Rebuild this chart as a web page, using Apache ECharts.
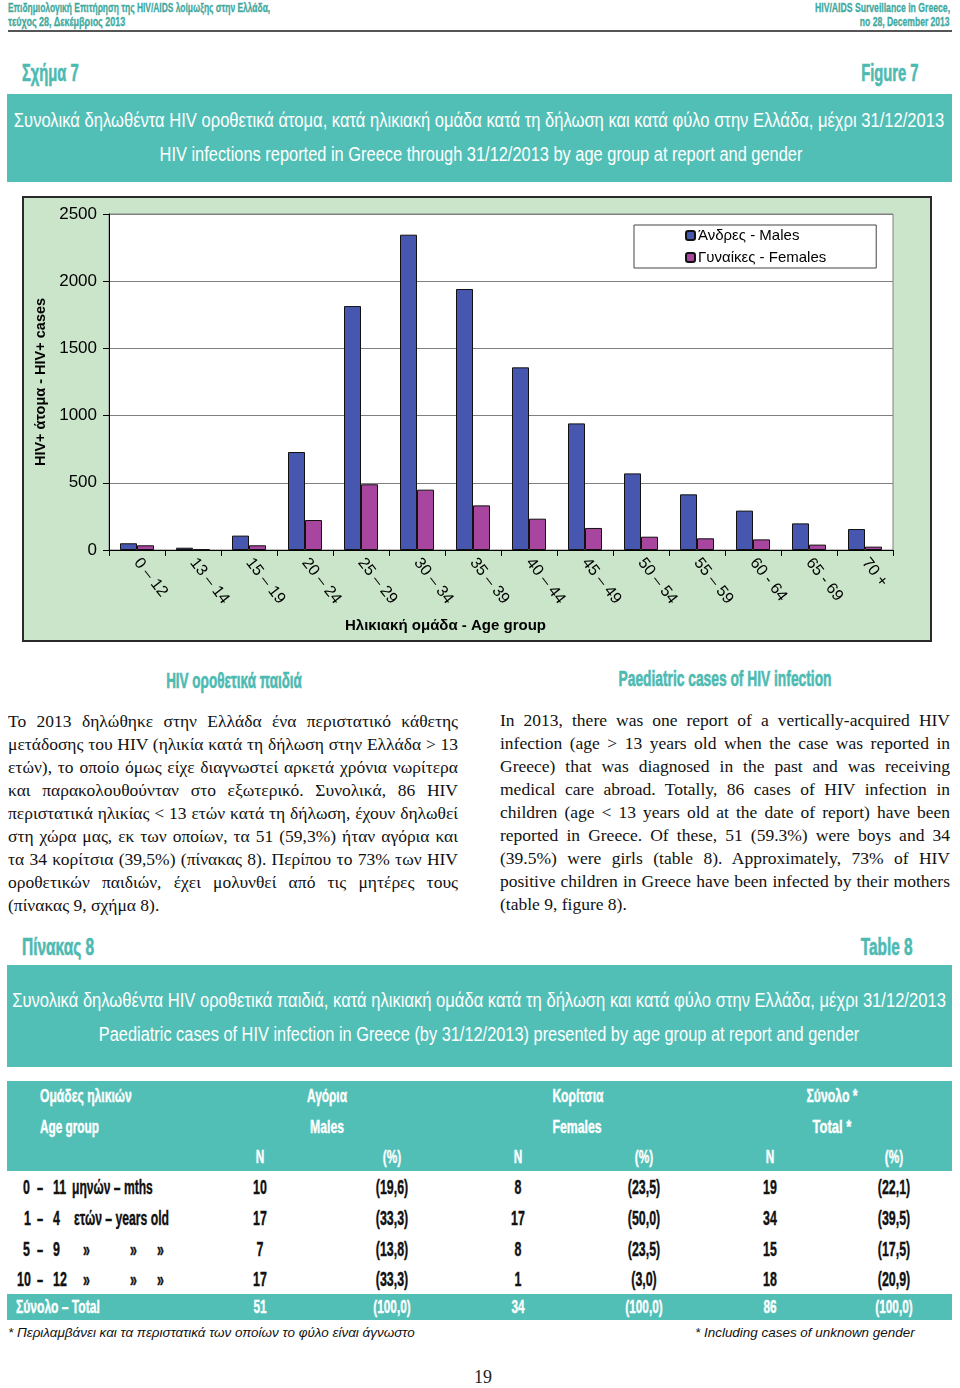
<!DOCTYPE html>
<html><head><meta charset="utf-8">
<script src="https://cdn.jsdelivr.net/npm/echarts@6/dist/echarts.min.js"></script>
<style>
body{margin:0;width:960px;height:1388px;background:#fff;position:relative;overflow:hidden;}
.a{position:absolute;white-space:nowrap;}
.n{font-family:"Liberation Sans",Arial,sans-serif;}
.hv{-webkit-text-stroke:0.6px currentColor;}
.teal{color:#4dbab2;}
.box{position:absolute;background:#52bfb7;}
.para{position:absolute;width:450px;font-family:"Liberation Serif","DejaVu Serif",serif;font-size:17.5px;color:#111;}
.para div{height:23px;line-height:23px;text-align:justify;text-align-last:justify;white-space:nowrap;}
.para div.last{text-align-last:left;}
.w{color:#fff;}
</style></head>
<body>
<!-- page header -->
<div class="a n hv" data-w="262" style="left:8px;top:0px;font-size:13px;font-weight:bold;color:#3fa9a0;-webkit-text-stroke-width:0.3px;">Επιδημιολογική Επιτήρηση της HIV/AIDS λοίμωξης στην Ελλάδα,</div>
<div class="a n hv" data-w="117" style="left:8px;top:14px;font-size:13px;font-weight:bold;color:#3fa9a0;-webkit-text-stroke-width:0.3px;">τεύχος 28, Δεκέμβριος 2013</div>
<div class="a n hv" data-w="135" data-al="r" style="right:10px;top:0px;font-size:13px;font-weight:bold;color:#3fa9a0;-webkit-text-stroke-width:0.3px;">HIV/AIDS Surveillance in Greece,</div>
<div class="a n hv" data-w="90" data-al="r" style="right:10px;top:14px;font-size:13px;font-weight:bold;color:#3fa9a0;-webkit-text-stroke-width:0.3px;">no 28, December 2013</div>
<div class="a" style="left:8px;top:30px;width:944px;height:2px;background:#555;"></div>

<div class="a n teal hv" data-w="57" style="left:22px;top:60px;font-size:23px;font-weight:bold;">Σχήμα 7</div>
<div class="a n teal hv" data-w="57" data-al="r" style="right:42px;top:60px;font-size:23px;font-weight:bold;">Figure 7</div>

<div class="box" style="left:7px;top:94px;width:945px;height:88px;"></div>
<div class="a n w" data-w="930" data-al="c" style="left:479px;top:109px;font-size:20px;">Συνολικά δηλωθέντα HIV οροθετικά άτομα, κατά ηλικιακή ομάδα κατά τη δήλωση και κατά φύλο στην Ελλάδα, μέχρι 31/12/2013</div>
<div class="a n w" data-w="643" data-al="c" style="left:481px;top:143px;font-size:20px;">HIV infections reported in Greece through 31/12/2013 by age group at report and gender</div>

<!-- chart -->
<div class="a" style="left:22px;top:196px;width:910px;height:446px;box-sizing:border-box;border:2px solid #2a2a2a;background:#cbe5cb;">
  <div id="chart" style="width:906px;height:442px;"></div>
</div>

<!-- text columns -->
<div class="a n teal hv" data-w="136" data-al="c" style="left:234px;top:668px;font-size:22px;font-weight:bold;">HIV οροθετικά παιδιά</div>
<div class="a n teal hv" data-w="213" data-al="c" style="left:725px;top:666px;font-size:22px;font-weight:bold;">Paediatric cases of HIV infection</div>

<div class="para" style="left:8px;top:710px;" id="pl"></div>
<div class="para" style="left:500px;top:709px;" id="pr"></div>

<div class="a n teal hv" data-w="72" style="left:22px;top:934px;font-size:23px;font-weight:bold;">Πίνακας 8</div>
<div class="a n teal hv" data-w="52" data-al="r" style="right:47px;top:934px;font-size:23px;font-weight:bold;">Table 8</div>

<div class="box" style="left:7px;top:965px;width:945px;height:102px;"></div>
<div class="a n w" data-w="934" data-al="c" style="left:479px;top:989px;font-size:20px;">Συνολικά δηλωθέντα HIV οροθετικά παιδιά, κατά ηλικιακή ομάδα κατά τη δήλωση και κατά φύλο στην Ελλάδα, μέχρι 31/12/2013</div>
<div class="a n w" data-w="760" data-al="c" style="left:479px;top:1023px;font-size:20px;">Paediatric cases of HIV infection in Greece (by 31/12/2013) presented by age group at report and gender</div>

<!-- table -->
<div class="box" style="left:7px;top:1081px;width:945px;height:90px;"></div>
<div class="box" style="left:7px;top:1294px;width:945px;height:26px;"></div>
<div id="tbl"></div>

<div class="a" data-w="407" style="left:8px;top:1325px;font-family:'Liberation Sans',sans-serif;font-style:italic;font-size:13.5px;color:#111;">* Περιλαμβάνει και τα περιστατικά των οποίων το φύλο είναι άγνωστο</div>
<div class="a" data-w="220" style="left:695px;top:1325px;font-family:'Liberation Sans',sans-serif;font-style:italic;font-size:13.5px;color:#111;">* Including cases of unknown gender</div>
<div class="a" data-al="c" data-s="1" style="left:483px;top:1367px;font-family:'Liberation Serif',serif;font-size:18px;color:#222;">19</div>

<script>
// ---- figure data ----
const ageGroups = ['0 – 12','13 – 14','15 – 19','20 – 24','25 – 29','30 – 34','35 – 39','40 – 44','45 – 49','50 – 54','55 – 59','60 - 64','65 - 69','70 +'];
const males   = [50, 17, 107, 729, 1815, 2346, 1942, 1359, 942, 570, 414, 293, 198, 156];
const females = [35, 5, 35, 223, 489, 449, 332, 233, 164, 99, 87, 79, 40, 25];
const seriesNames = ['Άνδρες - Males', 'Γυναίκες - Females'];
const yTickValues = [0, 500, 1000, 1500, 2000, 2500];

// ---- table data ----
const tableRowAges  = [['0','11'],['1','4'],['5','9'],['10','12']];
const tableRowUnits = ['μηνών – mths','ετών – years old','»','»'];
const tableMalesN   = ['10','17','7','17'];
const tableMalesP   = ['(19,6)','(33,3)','(13,8)','(33,3)'];
const tableFemalesN = ['8','17','8','1'];
const tableFemalesP = ['(23,5)','(50,0)','(23,5)','(3,0)'];
const tableTotalN   = ['19','34','15','18'];
const tableTotalP   = ['(22,1)','(39,5)','(17,5)','(20,9)'];
const tableTotals   = ['51','(100,0)','34','(100,0)','86','(100,0)'];

// ---- paragraphs (line by line) ----
const paraGreek = [
 'Το 2013 δηλώθηκε στην Ελλάδα ένα περιστατικό κάθετης',
 'μετάδοσης του HIV (ηλικία κατά τη δήλωση στην Ελλάδα > 13',
 'ετών), το οποίο όμως είχε διαγνωστεί αρκετά χρόνια νωρίτερα',
 'και παρακολουθούνταν στο εξωτερικό. Συνολικά, 86 HIV',
 'περιστατικά ηλικίας < 13 ετών κατά τη δήλωση, έχουν δηλωθεί',
 'στη χώρα μας, εκ των οποίων, τα 51 (59,3%) ήταν αγόρια και',
 'τα 34 κορίτσια (39,5%) (πίνακας 8). Περίπου το 73% των HIV',
 'οροθετικών παιδιών, έχει μολυνθεί από τις μητέρες τους',
 '(πίνακας 9, σχήμα 8).'];
const paraEnglish = [
 'In 2013, there was one report of a vertically-acquired HIV',
 'infection (age > 13 years old when the case was reported in',
 'Greece) that was diagnosed in the past and was receiving',
 'medical care abroad. Totally, 86 cases of HIV infection in',
 'children (age < 13 years old at the date of report) have been',
 'reported in Greece. Of these, 51 (59.3%) were boys and 34',
 '(39.5%) were girls (table 8). Approximately, 73% of HIV',
 'positive children in Greece have been infected by their mothers',
 '(table 9, figure 8).'];

function esc(s){return s.replace(/&/g,'&amp;').replace(/</g,'&lt;').replace(/>/g,'&gt;');}
function fillPara(id, lines){
  document.getElementById(id).innerHTML = lines.map((l,i)=>'<div'+(i===lines.length-1?' class="last"':'')+'>'+esc(l)+'</div>').join('');
}
fillPara('pl', paraGreek);
fillPara('pr', paraEnglish);

// table build
(function(){
  let h = '';
  function t(x, y, txt, opts){
    opts = opts||{};
    h += '<div class="a n hv'+(opts.white?' w':'')+'"'+(opts.w?' data-w="'+opts.w+'"':'')+' data-s="'+(opts.s||0.62)+'" data-al="'+(opts.al||'l')+'" style="left:'+x+'px;top:'+y+'px;font-size:'+(opts.fs||20)+'px;font-weight:bold;-webkit-text-stroke-width:0.4px;'+(opts.white?'':'color:#111;')+'">'+esc(txt)+'</div>';
  }
  const H = {white:true,fs:19};
  t(40,1085,'Ομάδες ηλικιών',Object.assign({w:92},H));
  t(40,1116,'Age group',Object.assign({w:59},H));
  t(327,1085,'Αγόρια',Object.assign({w:40,al:'c'},H)); t(327,1116,'Males',Object.assign({w:34,al:'c'},H));
  t(578,1085,'Κορίτσια',Object.assign({w:51,al:'c'},H)); t(577,1116,'Females',Object.assign({w:49,al:'c'},H));
  t(832,1085,'Σύνολο *',Object.assign({w:51,al:'c'},H)); t(832,1116,'Total *',Object.assign({w:39,al:'c'},H));
  const cx = [260,392,518,644,770,894];
  ['N','(%)','N','(%)','N','(%)'].forEach((s,i)=>t(cx[i],1146,s,Object.assign({al:'c'},H)));
  const ys = [1176,1207,1238,1268];
  const cols = [tableMalesN,tableMalesP,tableFemalesN,tableFemalesP,tableTotalN,tableTotalP];
  ys.forEach((y,r)=>{
    const ag = tableRowAges[r];
    t(ag[0].length>1?17:(ag[0]==='1'?24:23), y, ag[0]);
    t(37, y, '–', {w:6});
    t(53, y, ag[1]);
    const u = tableRowUnits[r];
    if (u === '»') { t(83,y,'»'); t(130,y,'»'); t(157,y,'»'); }
    else t(r===0?72:74, y, u, {w: r===0?81:95});
    cols.forEach((c,i)=>t(cx[i],y,c[r],{al:'c'}));
  });
  t(16,1296,'Σύνολο – Total',{white:true,fs:19,w:84});
  tableTotals.forEach((s,i)=>t(cx[i],1296,s,{white:true,fs:19,al:'c'}));
  document.getElementById('tbl').innerHTML = h;
})();

// condense text to match target widths
document.querySelectorAll('[data-w],[data-s]').forEach(el=>{
  const w = el.offsetWidth;
  const s = el.dataset.w ? (+el.dataset.w)/w : +el.dataset.s;
  const al = el.dataset.al || 'l';
  if (al === 'c') { el.style.transformOrigin = '0 0'; el.style.transform = 'scaleX('+s+') translateX(-50%)'; }
  else if (al === 'r') { el.style.transformOrigin = '100% 0'; el.style.transform = 'scaleX('+s+')'; }
  else { el.style.transformOrigin = '0 0'; el.style.transform = 'scaleX('+s+')'; }
});

// chart
const chart = echarts.init(document.getElementById('chart'));
chart.setOption({
  animation:false,
  backgroundColor:'transparent',
  grid:{left:85,top:16,width:784,height:336,show:true,backgroundColor:'#fff',borderColor:'#808080',borderWidth:1},
  legend:{
    orient:'vertical', left:610, top:27,
    data:seriesNames,
    backgroundColor:'#fff', borderColor:'#444', borderWidth:1,
    padding:[2,50,2,51], itemGap:5, itemWidth:9, itemHeight:9,
    textStyle:{fontFamily:'Liberation Sans, Arial, sans-serif', fontSize:15, lineHeight:17, color:'#000', padding:[0,0,0,-2]}
  },
  xAxis:{
    type:'category', data:ageGroups,
    axisLine:{lineStyle:{color:'#000',width:1}},
    axisTick:{show:true,length:6,lineStyle:{color:'#000'}},
    axisLabel:{rotate:-52, interval:0, margin:10, fontSize:16, color:'#000', fontFamily:'Liberation Sans, Arial, sans-serif'}
  },
  yAxis:{
    type:'value', min:yTickValues[0], max:yTickValues[yTickValues.length-1], interval:yTickValues[1]-yTickValues[0],
    name:'HIV+ άτομα - HIV+ cases', nameLocation:'middle', nameGap:59,
    nameTextStyle:{fontFamily:'Liberation Sans, Arial, sans-serif', fontSize:14.5, fontWeight:'bold', color:'#000'},
    axisLine:{show:true,lineStyle:{color:'#000'}},
    axisTick:{show:true,length:6,lineStyle:{color:'#000'}},
    axisLabel:{fontSize:17, color:'#000', margin:12, fontFamily:'Liberation Sans, Arial, sans-serif', formatter:v=>String(v)},
    splitLine:{lineStyle:{color:'#808080',width:1}}
  },
  graphic:[{type:'text', left:321, top:420,
    style:{text:'Ηλικιακή ομάδα - Age group', fill:'#000', font:'bold 15px "Liberation Sans", Arial, sans-serif'}}],
  series:[
    {name:seriesNames[0], type:'bar', data:males, barWidth:17, barGap:'0%',
     itemStyle:{color:'#4757b0', borderColor:'#111', borderWidth:1}},
    {name:seriesNames[1], type:'bar', data:females, barWidth:17, barGap:'0%',
     itemStyle:{color:'#a8459f', borderColor:'#111', borderWidth:1}}
  ]
});
</script>
</body></html>
